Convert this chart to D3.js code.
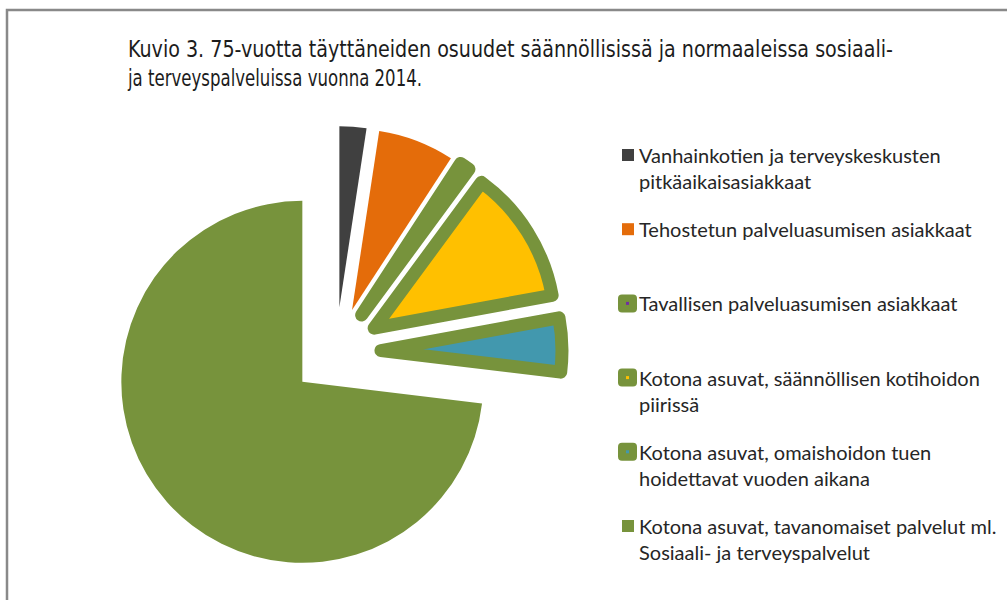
<!DOCTYPE html>
<html>
<head>
	<meta charset="utf-8">
	<title>Kuvio 3</title>
	<style>
		body {
			margin: 0;
			background: #fff;
		}
		.title {
			font-family: "Liberation Sans Narrow", "DejaVu Sans Condensed", sans-serif;
			font-size: 23px;
			fill: #1c1c1c;
		}
		.legend text {
			font-family: Lato, "Open Sans", sans-serif;
			font-size: 20px;
			fill: #262626;
		}
	</style>
</head>
<body>
	<div id="chart"></div>
	<script src="https://cdn.jsdelivr.net/npm/d3@7"></script>
	<script>
		// data (percent of 75+ population)
		var categories = [
			'Vanhainkotien ja terveyskeskusten pitkäaikaisasiakkaat',
			'Tehostetun palveluasumisen asiakkaat',
			'Tavallisen palveluasumisen asiakkaat',
			'Kotona asuvat, säännöllisen kotihoidon piirissä',
			'Kotona asuvat, omaishoidon tuen hoidettavat vuoden aikana',
			'Kotona asuvat, tavanomaiset palvelut ml. Sosiaali- ja terveyspalvelut'
		];
		var values = [2.4, 6.8, 0.9, 12.0, 4.8, 73.1];
		var legendLines = [
			['Vanhainkotien ja terveyskeskusten', 'pitkäaikaisasiakkaat'],
			['Tehostetun palveluasumisen asiakkaat'],
			['Tavallisen palveluasumisen asiakkaat'],
			['Kotona asuvat, säännöllisen kotihoidon', 'piirissä'],
			['Kotona asuvat, omaishoidon tuen', 'hoidettavat vuoden aikana'],
			['Kotona asuvat, tavanomaiset palvelut ml.', 'Sosiaali- ja terveyspalvelut']
		];
		var titleLines = [
			'Kuvio 3. 75-vuotta täyttäneiden osuudet säännöllisissä ja normaaleissa sosiaali-',
			'ja terveyspalveluissa vuonna 2014.'
		];

		var width = 1007, height = 600;
		var green = '#77933c';
		var color = d3.scaleOrdinal()
			.domain(categories)
			.range(['#404040', '#e46c0a', '#7030a0', '#ffc000', '#4298ae', green]);
		// slices drawn with the thick green outline
		var outlined = [false, false, true, true, true, false];

		var svg = d3.select('#chart')
			.append('svg')
			.attr('width', width)
			.attr('height', height);

		// frame
		svg.append('path')
			.attr('d', 'M7,' + height + 'V10H' + width)
			.attr('fill', 'none')
			.attr('stroke', '#898989')
			.attr('stroke-width', 2.5);

		// title
		var titleWidths = [765, 294];
		svg.selectAll('.title')
			.data(titleLines)
			.join('text')
			.attr('class', 'title')
			.attr('x', 128)
			.attr('y', function (d, i) { return 57 + i * 29; })
			.attr('textLength', function (d, i) { return titleWidths[i]; })
			.attr('lengthAdjust', 'spacingAndGlyphs')
			.text(function (d) { return d; });

		/**
		 * pie, every slice exploded along its bisector
		 */
		var radius = 181, explode = 45;
		var pie = d3.pie().sort(null).value(function (d) { return d; });
		var arc = d3.arc().innerRadius(0).outerRadius(radius);
		var arcs = pie(values);

		var g = svg.append('g').attr('transform', 'translate(336,352)');
		g.selectAll('path')
			.data(arcs)
			.join('path')
			.attr('transform', function (d) {
				var a = (d.startAngle + d.endAngle) / 2;
				return 'translate(' + (explode * Math.sin(a)) + ',' + (-explode * Math.cos(a)) + ')';
			})
			.attr('d', arc)
			.attr('fill', function (d, i) { return color(categories[i]); })
			.attr('stroke', function (d, i) { return outlined[i] ? green : 'none'; })
			.attr('stroke-width', 13)
			.attr('stroke-linejoin', 'round');

		// legend
		var rowY = d3.scaleLinear().domain([0, 5]).range([155, 526]);
		var legend = svg.append('g').attr('class', 'legend');
		var rows = legend.selectAll('g')
			.data(categories)
			.join('g')
			.attr('transform', function (d, i) { return 'translate(0,' + rowY(i) + ')'; });

		rows.filter(function (d, i) { return !outlined[i]; })
			.append('rect')
			.attr('x', 622).attr('y', -6)
			.attr('width', 12).attr('height', 12)
			.attr('fill', function (d) { return color(d); });

		var boxed = rows.filter(function (d, i) { return outlined[i]; });
		boxed.append('rect')
			.attr('x', 618).attr('y', -9)
			.attr('width', 19).attr('height', 18)
			.attr('rx', 4)
			.attr('fill', green);
		boxed.append('rect')
			.attr('x', 626).attr('y', -1.5)
			.attr('width', 3).attr('height', 3)
			.attr('fill', function (d) { return color(d); });

		rows.append('text')
			.attr('x', 639)
			.attr('y', 8)
			.selectAll('tspan')
			.data(function (d, i) { return legendLines[i]; })
			.join('tspan')
			.attr('x', 639)
			.attr('dy', function (d, i) { return i === 0 ? 0 : 26; })
			.text(function (d) { return d; });
	</script>
</body>
</html>
